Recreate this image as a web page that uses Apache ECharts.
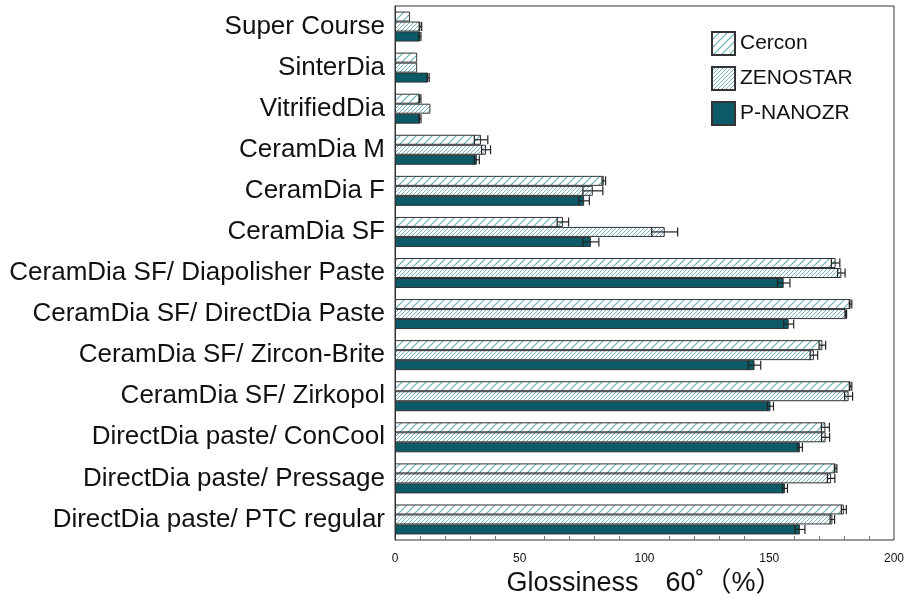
<!DOCTYPE html>
<html lang="en">
  <head>
    <meta charset="UTF-8" />
    <title>Glossiness 60</title>
    <script src="https://cdn.jsdelivr.net/npm/echarts@6.0.0/dist/echarts.min.js"></script>
    <style>
      body { margin: 0; background: #fff; }
      #chart { width: 907px; height: 602px; }
    </style>
  </head>
  <body>
    <div id="chart"></div>
    <script type="text/javascript">
      // polishing systems, top to bottom
      const categories = [
        "Super Course",
        "SinterDia",
        "VitrifiedDia",
        "CeramDia M",
        "CeramDia F",
        "CeramDia SF",
        "CeramDia SF/ Diapolisher Paste",
        "CeramDia SF/ DirectDia Paste",
        "CeramDia SF/ Zircon-Brite",
        "CeramDia SF/ Zirkopol",
        "DirectDia paste/ ConCool",
        "DirectDia paste/ Pressage",
        "DirectDia paste/ PTC regular",
      ];
      const seriesNames = ["Cercon", "ZENOSTAR", "P-NANOZR"];

      // mean glossiness values
      const cercon = [6, 8.9, 10, 34.5, 83.7, 67.3, 176.6, 182.6, 171.3, 182.6, 172.5, 176.6, 179.9];
      const zenostar = [10.2, 8.9, 14.2, 36.5, 79.3, 108.1, 178.9, 180.7, 167.9, 181.8, 172.6, 174.8, 175.3];
      const pnanozr = [10, 13.3, 10, 32.8, 75.8, 78.5, 155.8, 157.8, 144.1, 150.5, 162.3, 156.3, 162.3];

      // standard deviations (error bars)
      const cerconErr = [0, 0, 0.4, 2.7, 0.7, 2.3, 1.7, 0.5, 1.3, 0.5, 1.6, 0.5, 1];
      const zenostarErr = [0.5, 0, 0, 1.8, 4, 5.2, 1.5, 0.3, 1.5, 1.6, 1.6, 1.5, 0.9];
      const pnanozrErr = [0.4, 0.4, 0.4, 1, 2.1, 3.2, 2.5, 2, 2.5, 1.2, 1, 1, 2];

      const xTicks = [0, 50, 100, 150, 200];

      const BAR_W = 10;
      const TEAL = "#0a5a67";
      const HATCH = "#6aaeb6";

      // diagonal hatch pattern as a small canvas tile
      function hatch(size, lineW) {
        const c = document.createElement("canvas");
        c.width = size;
        c.height = size;
        const ctx = c.getContext("2d");
        ctx.fillStyle = "#fff";
        ctx.fillRect(0, 0, size, size);
        ctx.strokeStyle = HATCH;
        ctx.lineWidth = lineW;
        ctx.beginPath();
        ctx.moveTo(-1, size + 1);
        ctx.lineTo(size + 1, -1);
        ctx.moveTo(-1, 1);
        ctx.lineTo(1, -1);
        ctx.moveTo(size - 1, size + 1);
        ctx.lineTo(size + 1, size - 1);
        ctx.stroke();
        return { image: c, repeat: "repeat" };
      }

      const fills = [hatch(8, 1.2), hatch(4, 0.9), TEAL];
      const means = [cercon, zenostar, pnanozr];
      const errs = [cerconErr, zenostarErr, pnanozrErr];

      // data for the error bar overlay: [category, mean, sd, series index]
      const errData = [];
      means.forEach((arr, s) => {
        arr.forEach((v, i) => errData.push([i, v, errs[s][i], s]));
      });

      const chart = echarts.init(document.getElementById("chart"));

      const barSeries = seriesNames.map((name, s) => ({
        name: name,
        type: "bar",
        data: means[s],
        barWidth: BAR_W,
        barGap: "0%",
        itemStyle: { color: fills[s], borderColor: "#333", borderWidth: 1 },
      }));

      const option = {
        animation: false,
        textStyle: { fontFamily: "Liberation Sans, Arial, sans-serif" },
        grid: {
          left: 395,
          right: 10,
          top: 6,
          bottom: 62,
          show: true,
          borderColor: "#333",
          borderWidth: 1,
        },
        legend: {
          data: seriesNames,
          orient: "vertical",
          left: 706,
          top: 26,
          itemWidth: 23,
          itemHeight: 23,
          itemGap: 10,
          icon: "rect",
          textStyle: { fontSize: 21, color: "#111", fontFamily: "Liberation Sans", lineHeight: 24 },
        },
        xAxis: {
          type: "value",
          min: 0,
          max: 200,
          interval: 50,
          name: "Glossiness\u300060\u02da\uff08%\uff09",
          nameLocation: "middle",
          nameGap: 28,
          nameTextStyle: { fontSize: 27, color: "#111", fontFamily: "Liberation Sans, Noto Sans CJK JP" },
          axisLine: { lineStyle: { color: "#333" } },
          axisTick: { inside: true, length: 7, lineStyle: { color: "#555" } },
          minorTick: { show: true, splitNumber: 5, length: 4, lineStyle: { color: "#777" } },
          splitLine: { show: false },
          axisLabel: {
            fontSize: 12,
            color: "#111",
            margin: 13,
            formatter: (v) => (xTicks.includes(v) ? String(v) : ""),
          },
        },
        yAxis: {
          type: "category",
          data: categories,
          inverse: true,
          axisLine: { lineStyle: { color: "#333" } },
          axisTick: { inside: true, length: 5, lineStyle: { color: "#999" } },
          axisLabel: { fontSize: 26, color: "#111", margin: 10 },
        },
        series: barSeries.concat([
          {
            type: "custom",
            data: errData,
            encode: { x: 1, y: 0 },
            z: 5,
            renderItem: function (params, api) {
              const i = api.value(0);
              const v = api.value(1);
              const e = api.value(2);
              const s = api.value(3);
              if (!e) return null;
              const lo = api.coord([v - e, i]);
              const hi = api.coord([v + e, i]);
              const y = lo[1] + (s - 1) * BAR_W;
              const cap = 4.5;
              const style = { stroke: "#222", lineWidth: 1.2 };
              return {
                type: "group",
                children: [
                  { type: "line", shape: { x1: lo[0], y1: y, x2: hi[0], y2: y }, style: style },
                  { type: "line", shape: { x1: lo[0], y1: y - cap, x2: lo[0], y2: y + cap }, style: style },
                  { type: "line", shape: { x1: hi[0], y1: y - cap, x2: hi[0], y2: y + cap }, style: style },
                ],
              };
            },
          },
        ]),
      };

      chart.setOption(option);
    </script>
  </body>
</html>
